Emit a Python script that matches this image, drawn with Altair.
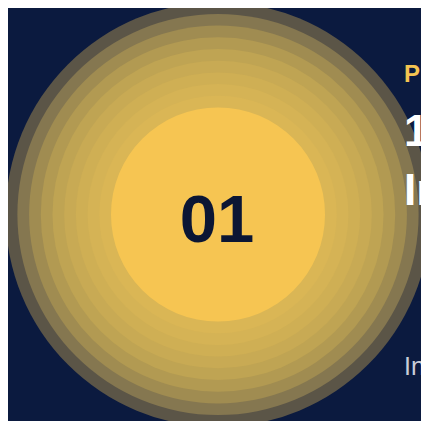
import altair as alt
import pandas as pd

# ring levels, outermost first (0 = solid centre disc)
ring_levels = [9, 8, 7, 6, 5, 4, 3, 2, 1, 0]
ring_colors = ["#5b5547", "#857750", "#a08c51", "#b29a52", "#bfa453",
               "#c8aa54", "#cfaf54", "#d5b355", "#dab655", "#f6c552"]

center_label = ["01"]
right_texts = ["PN", "1", "In", "Ins"]

BG = "#0b1a3f"
W, H = 413, 413
R0, STEP = 107, 11.7   # centre-disc radius and ring width in px

rings = pd.DataFrame({"level": ring_levels, "color": ring_colors})

circles = alt.Chart(rings).transform_calculate(
    diam2=f"pow(2*({R0}+{STEP}*datum.level), 2)"
).mark_circle(opacity=1, strokeWidth=0).encode(
    size=alt.Size("diam2:Q", scale=None, legend=None),
    color=alt.Color("color:N", scale=None),
    x=alt.value(210),
    y=alt.value(206.5),
    order=alt.Order("level:Q", sort="descending"),
)

center = alt.Chart(pd.DataFrame({"t": center_label})).mark_text(
    font="Liberation Sans", fontSize=67, fontWeight="bold", color="#0b1634",
    align="center", baseline="alphabetic"
).encode(text="t:N", x=alt.value(209), y=alt.value(234))

styles = [
    dict(size=24, weight="bold", color="#f5c451", y=74),
    dict(size=44, weight="bold", color="#ffffff", y=138),
    dict(size=44, weight="bold", color="#ffffff", y=197),
    dict(size=25, weight="normal", color="#c9cdd8", y=367),
]

layers = [circles, center]
for txt, st in zip(right_texts, styles):
    layers.append(
        alt.Chart(pd.DataFrame({"t": [txt]})).mark_text(
            font="Liberation Sans", fontSize=st["size"], fontWeight=st["weight"],
            color=st["color"], align="left", baseline="alphabetic"
        ).encode(text="t:N", x=alt.value(396), y=alt.value(st["y"]))
    )

chart = alt.layer(*layers).properties(
    width=W, height=H, background=BG, padding=0,
    autosize=alt.AutoSizeParams(type="none"),
).configure_view(stroke=None)

chart.save("out.html", embed_options={"renderer": "svg", "actions": False})
